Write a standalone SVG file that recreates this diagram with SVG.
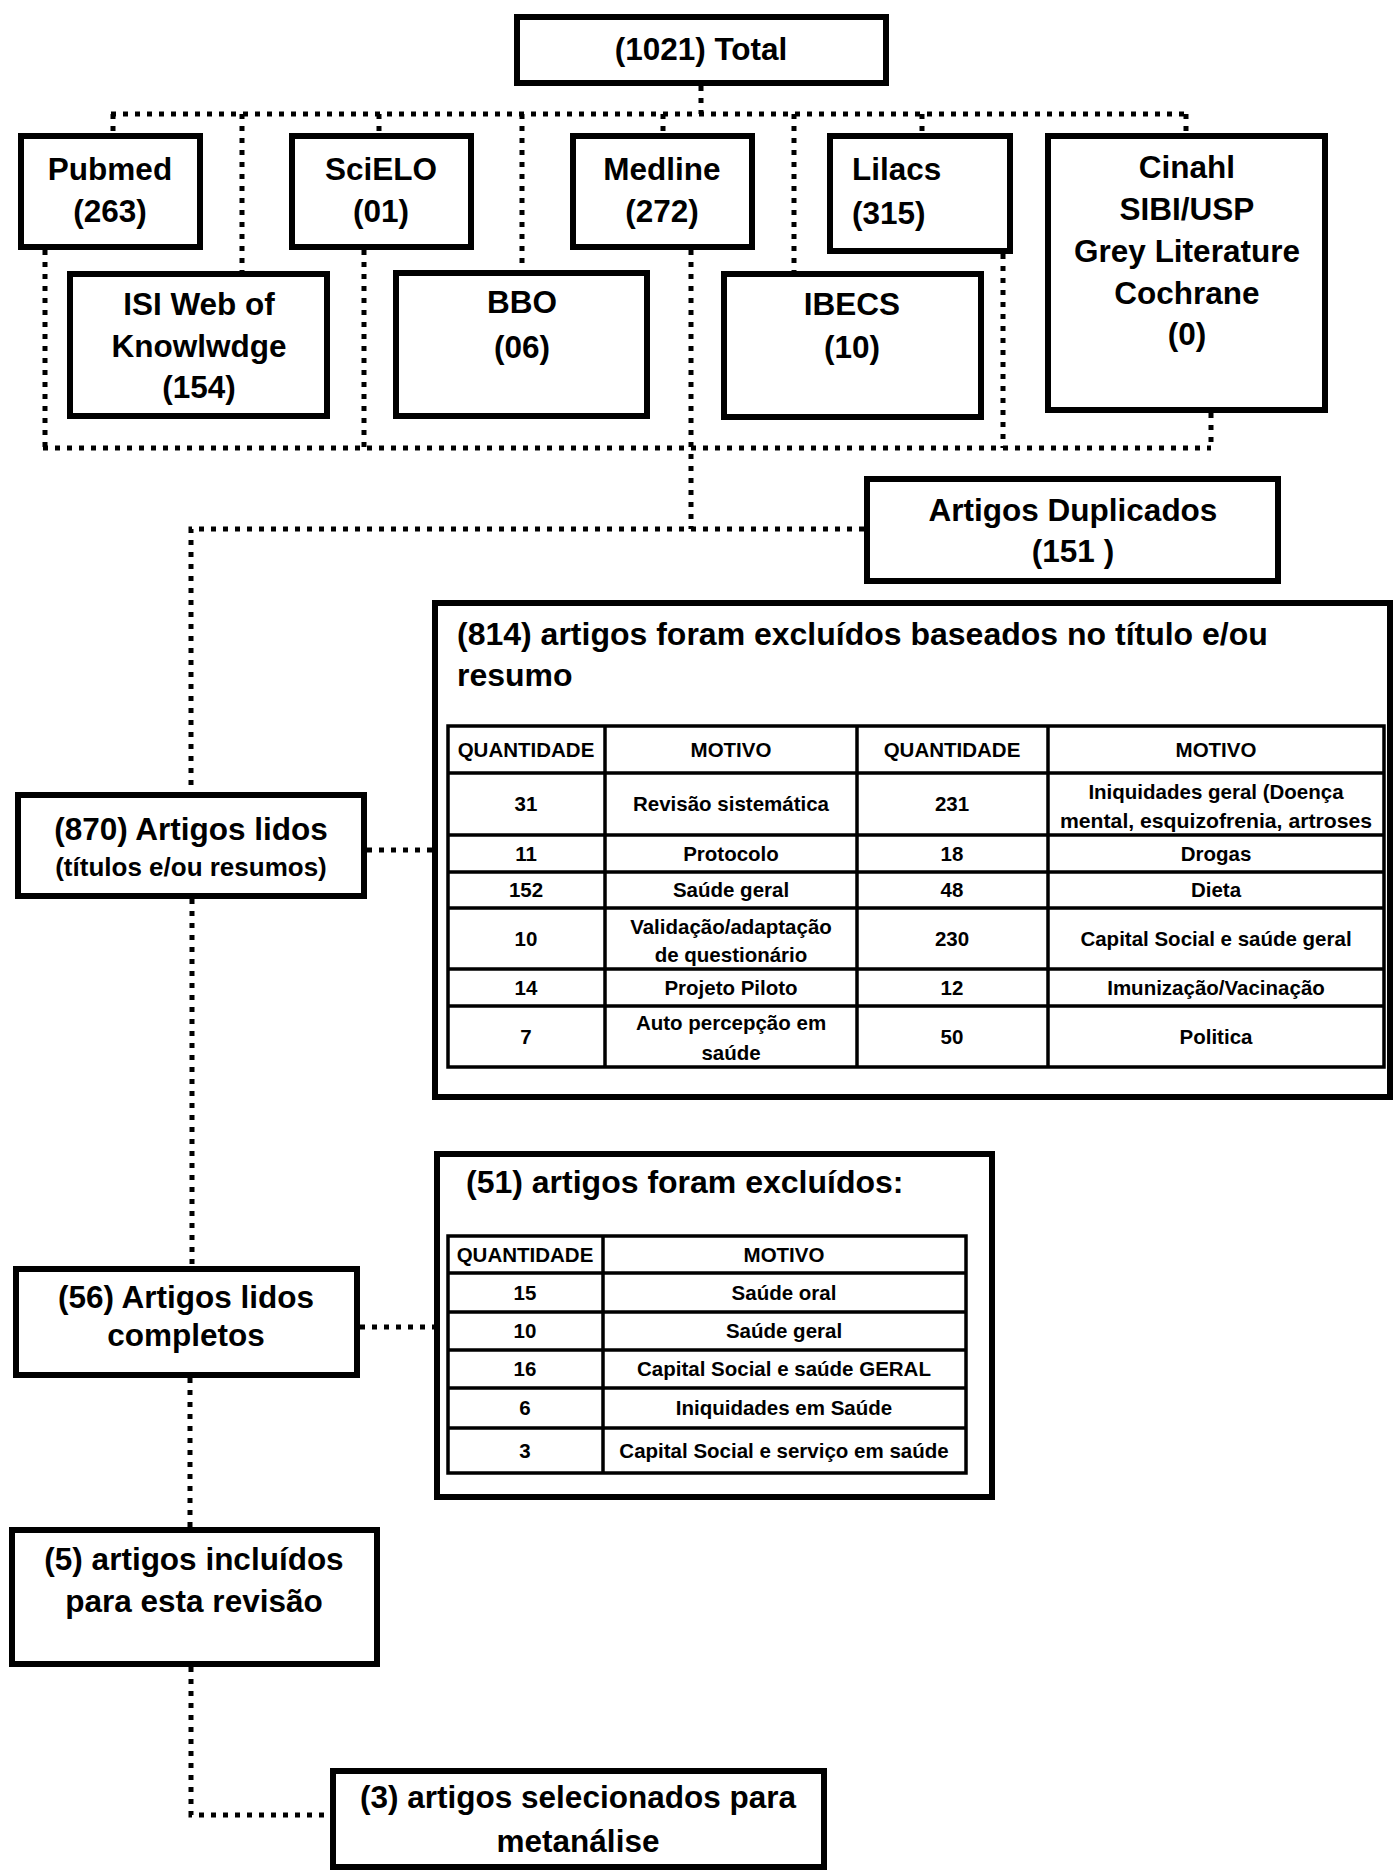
<svg xmlns="http://www.w3.org/2000/svg" width="1395" height="1872" viewBox="0 0 1395 1872">
<style>
.box{fill:#fff;stroke:#000;stroke-width:6}
.c{fill:none;stroke:#000;stroke-width:5;stroke-dasharray:5 7}
.t{font-family:"Liberation Sans",Arial,sans-serif;font-weight:bold;font-size:31.5px;fill:#000;text-anchor:middle}
.tl{text-anchor:start}
.big{font-size:32px}
.sm{font-size:26px}
.tb{fill:none;stroke:#000;stroke-width:3.5}
.cell{font-family:"Liberation Sans",Arial,sans-serif;font-weight:bold;font-size:20.5px;fill:#000;text-anchor:middle}
</style>
<rect width="1395" height="1872" fill="#fff"/>
<g id="connectors">
<path class="c" d="M701 86V114"/>
<path class="c" d="M111 114H1186"/>
<path class="c" d="M113 114V133M242 114V271M379 114V133M522 114V270M663 114V133M794 114V271M922 114V133M1186 114V133"/>
<path class="c" d="M43 448H1211"/>
<path class="c" d="M45 250V448M364 250V448M1003 254V448M1211 413V448"/>
<path class="c" d="M691 250V529"/>
<path class="c" d="M864 529H191V792"/>
<path class="c" d="M367 850H432"/>
<path class="c" d="M192 899V1266"/>
<path class="c" d="M360 1327H434"/>
<path class="c" d="M190 1378V1527"/>
<path class="c" d="M191 1667V1815H330"/>
</g>
<g id="n-total"><rect class="box" x="517" y="17" width="369" height="66"/><text class="t" x="701" y="60">(1021) Total</text></g>
<g id="n-pubmed"><rect class="box" x="21" y="136" width="179" height="111"/><text class="t" x="110" y="180">Pubmed</text><text class="t" x="110" y="222">(263)</text></g>
<g id="n-scielo"><rect class="box" x="292" y="136" width="179" height="111"/><text class="t" x="381" y="180">SciELO</text><text class="t" x="381" y="222">(01)</text></g>
<g id="n-medline"><rect class="box" x="573" y="136" width="179" height="111"/><text class="t" x="662" y="180">Medline</text><text class="t" x="662" y="222">(272)</text></g>
<g id="n-lilacs"><rect class="box" x="830" y="136" width="180" height="115"/><text class="t tl" x="852" y="180">Lilacs</text><text class="t tl" x="852" y="224">(315)</text></g>
<g id="n-cinahl"><rect class="box" x="1048" y="136" width="277" height="274"/><text class="t" x="1187" y="178">Cinahl</text><text class="t" x="1187" y="220">SIBI/USP</text><text class="t" x="1187" y="262">Grey Literature</text><text class="t" x="1187" y="304">Cochrane</text><text class="t" x="1187" y="345">(0)</text></g>
<g id="n-isi"><rect class="box" x="70" y="274" width="257" height="142"/><text class="t" x="199" y="315">ISI Web of</text><text class="t" x="199" y="357">Knowlwdge</text><text class="t" x="199" y="398">(154)</text></g>
<g id="n-bbo"><rect class="box" x="396" y="273" width="251" height="143"/><text class="t" x="522" y="313">BBO</text><text class="t" x="522" y="358">(06)</text></g>
<g id="n-ibecs"><rect class="box" x="724" y="274" width="257" height="143"/><text class="t" x="852" y="315">IBECS</text><text class="t" x="852" y="358">(10)</text></g>
<g id="n-duplicados"><rect class="box" x="867" y="479" width="411" height="102"/><text class="t" x="1073" y="521">Artigos Duplicados</text><text class="t" x="1073" y="562">(151 )</text></g>
<g id="n-excl814"><rect class="box" x="435" y="603" width="955" height="494"/>
<text class="t tl big" x="457" y="645">(814) artigos foram excluídos baseados no título e/ou</text>
<text class="t tl big" x="457" y="686">resumo</text>
<rect class="tb" x="448" y="726" width="936" height="341"/>
<path class="tb" d="M605 726V1067M857 726V1067M1048 726V1067M448 773H1384M448 835H1384M448 872H1384M448 908H1384M448 969H1384M448 1006H1384"/>
<text class="cell" x="526" y="757">QUANTIDADE</text><text class="cell" x="731" y="757">MOTIVO</text><text class="cell" x="952" y="757">QUANTIDADE</text><text class="cell" x="1216" y="757">MOTIVO</text>
<text class="cell" x="526" y="811">31</text><text class="cell" x="731" y="811">Revisão sistemática</text><text class="cell" x="952" y="811">231</text><text class="cell" x="1216" y="799">Iniquidades geral (Doença</text><text class="cell" x="1216" y="828" textLength="312" lengthAdjust="spacingAndGlyphs">mental, esquizofrenia, artroses</text>
<text class="cell" x="526" y="861">11</text><text class="cell" x="731" y="861">Protocolo</text><text class="cell" x="952" y="861">18</text><text class="cell" x="1216" y="861">Drogas</text>
<text class="cell" x="526" y="897">152</text><text class="cell" x="731" y="897">Saúde geral</text><text class="cell" x="952" y="897">48</text><text class="cell" x="1216" y="897">Dieta</text>
<text class="cell" x="526" y="946">10</text><text class="cell" x="731" y="934">Validação/adaptação</text><text class="cell" x="731" y="962">de questionário</text><text class="cell" x="952" y="946">230</text><text class="cell" x="1216" y="946">Capital Social e saúde geral</text>
<text class="cell" x="526" y="995">14</text><text class="cell" x="731" y="995">Projeto Piloto</text><text class="cell" x="952" y="995">12</text><text class="cell" x="1216" y="995">Imunização/Vacinação</text>
<text class="cell" x="526" y="1044">7</text><text class="cell" x="731" y="1030">Auto percepção em</text><text class="cell" x="731" y="1060">saúde</text><text class="cell" x="952" y="1044">50</text><text class="cell" x="1216" y="1044">Politica</text>
</g>
<g id="n-lidos870"><rect class="box" x="18" y="795" width="346" height="101"/><text class="t" x="191" y="840">(870) Artigos lidos</text><text class="t sm" x="191" y="876">(títulos e/ou resumos)</text></g>
<g id="n-lidos56"><rect class="box" x="16" y="1269" width="341" height="106"/><text class="t" x="186" y="1308">(56) Artigos lidos</text><text class="t" x="186" y="1346">completos</text></g>
<g id="n-excl51"><rect class="box" x="437" y="1154" width="555" height="343"/>
<text class="t tl big" x="466" y="1193">(51) artigos foram excluídos:</text>
<rect class="tb" x="448" y="1236" width="518" height="237"/>
<path class="tb" d="M603 1236V1473M448 1273H966M448 1312H966M448 1350H966M448 1388H966M448 1428H966"/>
<text class="cell" x="525" y="1262">QUANTIDADE</text><text class="cell" x="784" y="1262">MOTIVO</text>
<text class="cell" x="525" y="1300">15</text><text class="cell" x="784" y="1300">Saúde oral</text>
<text class="cell" x="525" y="1338">10</text><text class="cell" x="784" y="1338">Saúde geral</text>
<text class="cell" x="525" y="1376">16</text><text class="cell" x="784" y="1376">Capital Social e saúde GERAL</text>
<text class="cell" x="525" y="1415">6</text><text class="cell" x="784" y="1415">Iniquidades em Saúde</text>
<text class="cell" x="525" y="1458">3</text><text class="cell" x="784" y="1458">Capital Social e serviço em saúde</text>
</g>
<g id="n-incluidos5"><rect class="box" x="12" y="1530" width="365" height="134"/><text class="t" x="194" y="1570">(5) artigos incluídos</text><text class="t" x="194" y="1612">para esta revisão</text></g>
<g id="n-meta3"><rect class="box" x="333" y="1771" width="491" height="96"/><text class="t" x="578" y="1808">(3) artigos selecionados para</text><text class="t" x="578" y="1852">metanálise</text></g>
</svg>
